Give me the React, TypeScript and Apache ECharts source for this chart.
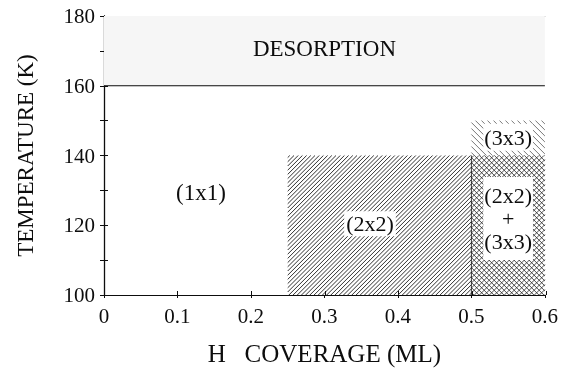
import React, { useEffect, useRef } from 'react';
import * as echarts from 'echarts';

// Axis ranges / ticks
const coverageRange = [0, 0.6];
const temperatureRange = [100, 180];
const coverageStep = 0.1;
const temperatureStep = 10;

// Phase regions (coverage in ML, temperature in K)
const regionNames = ['DESORPTION', '(2x2)', '(3x3)', '(2x2)+(3x3)'];
const regionCoverageFrom = [0, 0.25, 0.5, 0.5];
const regionCoverageTo = [0.6, 0.5, 0.6, 0.6];
const regionTempFrom = [160, 100, 140, 100];
const regionTempTo = [180, 140, 150, 140];

// Region labels
const labelTexts = ['DESORPTION', '(1x1)', '(2x2)', '(3x3)', '(2x2)\n+\n(3x3)'];
const labelCoverage = [0.3, 0.132, 0.362, 0.55, 0.55];
const labelTemp = [170.7, 129.5, 120.4, 145.2, 121.9];

const FONT = '"Liberation Serif", "Times New Roman", serif';
const INK = '#0d0d0d';

const patternStyle: Record<string, any> = {
  'DESORPTION': { kind: 'fill', fill: '#f6f6f6' },
  '(2x2)': { kind: 'slash', step: 4.2, stroke: '#1a1a1a', width: 0.9 },
  '(3x3)': { kind: 'back', step: 6, stroke: '#555', width: 0.8 },
  '(2x2)+(3x3)': { kind: 'cross', step: 5, stroke: '#222', width: 0.8 },
};

const labelStyle: Record<string, any> = {
  'DESORPTION': { fontSize: 23, bg: null, pad: [0, 0] },
  '(1x1)': { fontSize: 23, bg: null, pad: [0, 0] },
  '(2x2)': { fontSize: 22, bg: '#fff', pad: [1, 2] },
  '(3x3)': { fontSize: 22, bg: '#fff', pad: [2, 1] },
  '(2x2)\n+\n(3x3)': { fontSize: 22, bg: '#fff', pad: [7, 1] },
};

function slashPath(L: number, T: number, R: number, B: number, step: number) {
  let d = '';
  for (let c = L + T + step / 2; c < R + B; c += step) {
    const x1 = Math.max(L, c - B);
    const x2 = Math.min(R, c - T);
    if (x2 > x1) d += `M${x1.toFixed(2)},${(c - x1).toFixed(2)}L${x2.toFixed(2)},${(c - x2).toFixed(2)}`;
  }
  return d;
}
function backPath(L: number, T: number, R: number, B: number, step: number) {
  let d = '';
  for (let c = L - B + step / 2; c < R - T; c += step) {
    const x1 = Math.max(L, c + T);
    const x2 = Math.min(R, c + B);
    if (x2 > x1) d += `M${x1.toFixed(2)},${(x1 - c).toFixed(2)}L${x2.toFixed(2)},${(x2 - c).toFixed(2)}`;
  }
  return d;
}

export default function App() {
  const ref = useRef<HTMLDivElement>(null);
  useEffect(() => {
    if (!ref.current) return;
    const chart = echarts.init(ref.current, null, { renderer: 'svg' });
    const grid = { left: 104, right: 15, top: 16, bottom: 77 };
    const regionData = regionNames.map((n, i) => [
      regionCoverageFrom[i], regionCoverageTo[i], regionTempFrom[i], regionTempTo[i], i,
    ]);
    const labelData = labelTexts.map((t, i) => [labelCoverage[i], labelTemp[i], i]);

    chart.setOption({
      animation: false,
      grid: [{ ...grid }, { ...grid }],
      xAxis: [
        {
          type: 'value', gridIndex: 0, position: 'bottom',
          min: coverageRange[0], max: coverageRange[1], interval: coverageStep,
          axisLine: { show: true, lineStyle: { color: INK, width: 1 } },
          axisTick: { show: true, inside: false, length: 3, lineStyle: { color: INK } },
          axisLabel: {
            show: true, margin: 10, fontFamily: FONT, fontSize: 21, color: INK,
            formatter: (v: number) => String(+v.toFixed(1)),
          },
          splitLine: { show: false },
          name: 'H   COVERAGE (ML)', nameLocation: 'middle', nameGap: 46,
          nameTextStyle: { fontFamily: FONT, fontSize: 25, color: INK },
        },
        {
          type: 'value', gridIndex: 0, position: 'top',
          min: coverageRange[0], max: coverageRange[1], interval: coverageStep,
          axisLine: { show: true, lineStyle: { color: '#9a9a9a', width: 1 } },
          axisTick: { show: false }, axisLabel: { show: false }, splitLine: { show: false },
        },
        {
          type: 'value', gridIndex: 1, position: 'bottom',
          min: coverageRange[0], max: coverageRange[1], interval: coverageStep,
          axisLine: { show: false },
          axisTick: { show: true, inside: true, length: 4, lineStyle: { color: INK } },
          axisLabel: { show: false }, splitLine: { show: false },
        },
      ],
      yAxis: [
        {
          type: 'value', gridIndex: 0, position: 'left',
          min: temperatureRange[0], max: temperatureRange[1], interval: temperatureStep,
          axisLine: { show: true, lineStyle: { color: INK, width: 1.3 } },
          axisTick: { show: true, inside: false, length: 4, lineStyle: { color: INK } },
          axisLabel: {
            show: true, margin: 9, fontFamily: FONT, fontSize: 21, color: INK,
            formatter: (v: number) => (v % 20 === 0 ? String(v) : ''),
          },
          splitLine: { show: false },
          name: 'TEMPERATURE (K)', nameLocation: 'middle', nameGap: 67,
          nameTextStyle: { fontFamily: FONT, fontSize: 23, color: INK },
        },
        {
          type: 'value', gridIndex: 0, position: 'right',
          min: temperatureRange[0], max: temperatureRange[1], interval: temperatureStep,
          axisLine: { show: true, lineStyle: { color: INK, width: 1 } },
          axisTick: { show: false }, axisLabel: { show: false }, splitLine: { show: false },
        },
        {
          type: 'value', gridIndex: 1, position: 'left',
          min: temperatureRange[0], max: temperatureRange[1], interval: temperatureStep,
          axisLine: { show: false },
          axisTick: { show: true, inside: true, length: 4, lineStyle: { color: INK } },
          axisLabel: { show: false }, splitLine: { show: false },
        },
      ],
      series: [
        {
          type: 'custom', xAxisIndex: 0, yAxisIndex: 0, z: 1,
          data: regionData,
          renderItem: (params: any, api: any) => {
            const i = api.value(4);
            const tl = api.coord([api.value(0), api.value(3)]);
            const br = api.coord([api.value(1), api.value(2)]);
            const L = tl[0], T = tl[1], R = br[0], B = br[1];
            const p = patternStyle[regionNames[i]];
            const children: any[] = [];
            if (p.kind === 'fill') {
              children.push({ type: 'rect', shape: { x: L, y: T, width: R - L, height: B - T }, style: { fill: p.fill } });
              children.push({ type: 'line', shape: { x1: L, y1: B, x2: R, y2: B }, style: { stroke: INK, lineWidth: 1 } });
            } else {
              let d = '';
              if (p.kind === 'slash' || p.kind === 'cross') d += slashPath(L, T, R, B, p.step);
              if (p.kind === 'back' || p.kind === 'cross') d += backPath(L, T, R, B, p.step);
              children.push({ type: 'path', shape: { pathData: d }, style: { fill: 'none', stroke: p.stroke, lineWidth: p.width } });
              if (p.kind === 'cross') {
                children.push({ type: 'line', shape: { x1: L, y1: T, x2: L, y2: B }, style: { stroke: INK, lineWidth: 0.8 } });
              }
            }
            return { type: 'group', children };
          },
        },
        {
          type: 'custom', xAxisIndex: 0, yAxisIndex: 0, z: 3,
          data: labelData,
          renderItem: (params: any, api: any) => {
            const i = api.value(2);
            const pt = api.coord([api.value(0), api.value(1)]);
            const t = labelTexts[i];
            const s = labelStyle[t];
            return {
              type: 'text', x: pt[0], y: pt[1],
              style: {
                text: t, fontFamily: FONT, fontSize: s.fontSize, fill: INK,
                align: 'center', verticalAlign: 'middle', lineHeight: 23,
                backgroundColor: s.bg || undefined, padding: s.pad,
              },
            };
          },
        },
      ],
    });
    return () => chart.dispose();
  }, []);
  return <div ref={ref} style={{ position: 'fixed', left: 0, top: 0, width: 561, height: 372 }} />;
}
